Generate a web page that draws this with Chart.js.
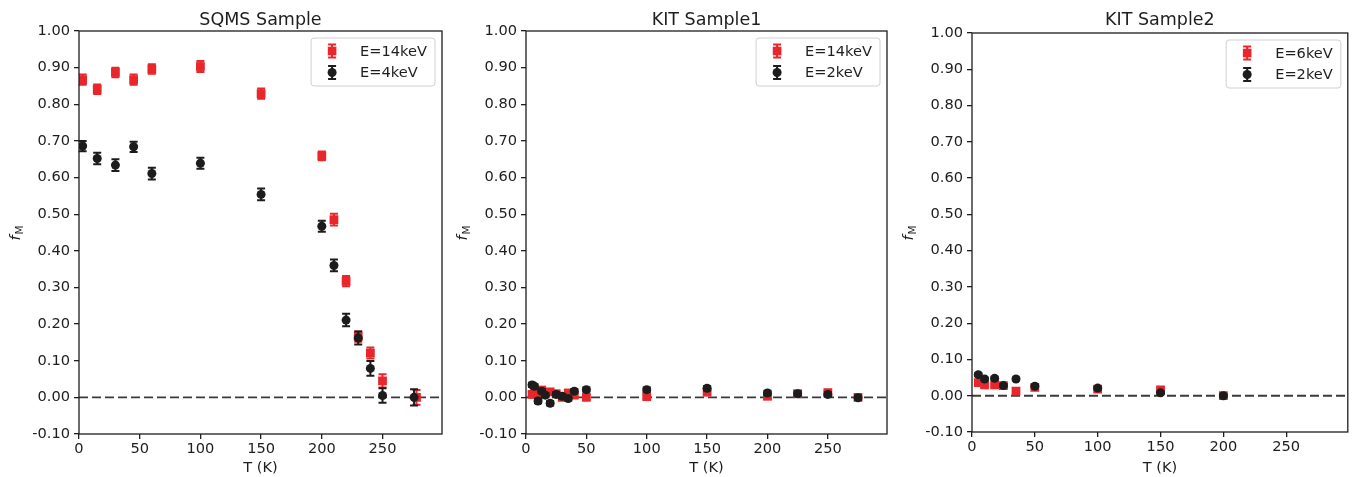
<!DOCTYPE html>
<html>
<head>
<meta charset="utf-8">
<script src="https://cdn.jsdelivr.net/npm/chart.js@4"></script>
<style>
  body { margin: 0; background: #fff; width: 1354px; height: 477px; overflow: hidden; position: relative; }
  canvas { position: absolute; top: 0; }
</style>
</head>
<body>
<canvas id="sqmsChart" width="460" height="477" style="left:0"></canvas>
<canvas id="kit1Chart" width="445" height="477" style="left:455px"></canvas>
<canvas id="kit2Chart" width="454" height="477" style="left:900px"></canvas>
<script>
// axis ticks
const xTicks = [0, 50, 100, 150, 200, 250];
const yTicks = [-0.1, 0, 0.1, 0.2, 0.3, 0.4, 0.5, 0.6, 0.7, 0.8, 0.9, 1.0];

// SQMS sample
const sqmsT14 = [3, 15, 30, 45, 60, 100, 150, 200, 210, 220, 230, 240, 250, 278];
const sqmsF14 = [0.867, 0.841, 0.887, 0.867, 0.896, 0.903, 0.829, 0.659, 0.485, 0.317, 0.166, 0.121, 0.045, 0.0];
const sqmsE14 = [0.014, 0.013, 0.013, 0.014, 0.013, 0.015, 0.014, 0.012, 0.016, 0.014, 0.014, 0.015, 0.018, 0.02];
const sqmsT4 = [3, 15, 30, 45, 60, 100, 150, 200, 210, 220, 230, 240, 250, 276];
const sqmsF4 = [0.686, 0.652, 0.634, 0.684, 0.611, 0.639, 0.554, 0.467, 0.360, 0.211, 0.162, 0.079, 0.005, 0.0];
const sqmsE4 = [0.014, 0.016, 0.016, 0.014, 0.016, 0.015, 0.016, 0.015, 0.016, 0.017, 0.018, 0.02, 0.02, 0.022];

// KIT sample 1
const kit1T = [5, 7, 10, 13, 16, 20, 25, 30, 35, 40, 50, 100, 150, 200, 225, 250, 275];
const kit1F14 = [0.008, 0.01, 0.012, 0.02, 0.012, 0.015, 0.01, 0.0, 0.012, 0.006, 0.0, 0.002, 0.014, 0.003, 0.01, 0.013, 0.0];
const kit1F2 = [0.034, 0.03, -0.01, 0.017, 0.006, -0.016, 0.008, 0.003, -0.003, 0.017, 0.021, 0.021, 0.025, 0.012, 0.01, 0.008, -0.001];
const kit1Err = 0.006;

// KIT sample 2
const kit2T = [5, 10, 18, 25, 35, 50, 100, 150, 200];
const kit2F6 = [0.036, 0.03, 0.03, 0.028, 0.013, 0.023, 0.018, 0.016, 0.0];
const kit2F2 = [0.058, 0.046, 0.048, 0.028, 0.046, 0.026, 0.021, 0.008, 0.0];
const kit2Err = 0.004;

const RED = '#e8262b';
const BLACK = '#1c1c1c';
const TEXT = '#1e1e1e';
const FONT = 'DejaVu Sans';

function points(xs, ys) {
    return xs.map((x, i) => ({ x: x, y: ys[i] }));
}

function errs(values, e) {
    return Array.isArray(e) ? e : values.map(() => e);
}

const errorBars = {
    id: 'errorBars',
    beforeDatasetDraw(chart, args) {
        const ds = chart.data.datasets[args.index];
        const ctx = chart.ctx;
        const yScale = chart.scales.y;
        ctx.save();
        ctx.strokeStyle = ds.backgroundColor;
        ctx.lineWidth = 2;
        args.meta.data.forEach((pt, i) => {
            const v = ds.data[i].y;
            const e = ds.errors[i];
            const top = yScale.getPixelForValue(v + e);
            const bot = yScale.getPixelForValue(v - e);
            ctx.beginPath();
            ctx.moveTo(pt.x, top); ctx.lineTo(pt.x, bot);
            ctx.moveTo(pt.x - 4, top); ctx.lineTo(pt.x + 4, top);
            ctx.moveTo(pt.x - 4, bot); ctx.lineTo(pt.x + 4, bot);
            ctx.stroke();
        });
        ctx.restore();
    }
};

const decorations = {
    id: 'decorations',
    beforeDatasetsDraw(chart) {
        // dashed zero line
        const ctx = chart.ctx;
        const a = chart.chartArea;
        const y0 = chart.scales.y.getPixelForValue(0);
        ctx.save();
        ctx.strokeStyle = '#3a3a3a';
        ctx.lineWidth = 1.8;
        ctx.setLineDash([9, 4]);
        ctx.beginPath();
        ctx.moveTo(a.left, y0); ctx.lineTo(a.right, y0);
        ctx.stroke();
        ctx.restore();
    },
    afterDraw(chart, args, opts) {
        const ctx = chart.ctx;
        const a = chart.chartArea;
        const cx = (a.left + a.right) / 2;
        ctx.save();
        // frame
        ctx.strokeStyle = TEXT;
        ctx.lineWidth = 1.3;
        ctx.strokeRect(a.left, a.top, a.right - a.left, a.bottom - a.top);

        // title
        ctx.fillStyle = TEXT;
        ctx.font = '17.5px "' + FONT + '"';
        ctx.textAlign = 'center';
        ctx.textBaseline = 'alphabetic';
        ctx.fillText(opts.title, cx, 25);

        // x label
        ctx.font = '14.6px "' + FONT + '"';
        ctx.fillText('T (K)', cx, 472);

        // y label f_M
        ctx.save();
        ctx.translate(a.left - 64, (a.top + a.bottom) / 2);
        ctx.rotate(-Math.PI / 2);
        ctx.textAlign = 'left';
        ctx.font = 'italic 14.6px "' + FONT + '"';
        ctx.fillText('f', -8, 5);
        ctx.font = '10.5px "' + FONT + '"';
        ctx.fillText('M', -2, 8);
        ctx.restore();

        // legend
        ctx.font = '14.6px "' + FONT + '"';
        const labels = opts.legend;
        const textW = Math.max(...labels.map(l => ctx.measureText(l).width));
        const w = 49 + textW + 8;
        const h = 48;
        const bx = a.right - 7 - w;
        const by = a.top + 7;
        ctx.beginPath();
        ctx.roundRect(bx, by, w, h, 3);
        ctx.fillStyle = 'rgba(255,255,255,0.8)';
        ctx.fill();
        ctx.strokeStyle = '#d0d0d0';
        ctx.lineWidth = 1;
        ctx.stroke();
        const dsets = chart.data.datasets;
        // datasets are [black, red]; legend lists red first
        [dsets[1], dsets[0]].forEach((ds, i) => {
            const mx = bx + 21;
            const my = by + 13 + i * 21.5;
            ctx.strokeStyle = ds.backgroundColor;
            ctx.lineWidth = 2;
            ctx.beginPath();
            ctx.moveTo(mx, my - 6.5); ctx.lineTo(mx, my + 6.5);
            ctx.moveTo(mx - 4, my - 6.5); ctx.lineTo(mx + 4, my - 6.5);
            ctx.moveTo(mx - 4, my + 6.5); ctx.lineTo(mx + 4, my + 6.5);
            ctx.stroke();
            ctx.fillStyle = ds.backgroundColor;
            ctx.beginPath();
            if (ds.pointStyle === 'rect') {
                ctx.rect(mx - 4.3, my - 4.3, 8.6, 8.6);
            } else {
                ctx.arc(mx, my, 4.5, 0, Math.PI * 2);
            }
            ctx.fill();
            ctx.fillStyle = TEXT;
            ctx.textAlign = 'left';
            ctx.textBaseline = 'middle';
            ctx.fillText(labels[i], bx + 49, my + 1);
        });
        ctx.restore();
    }
};

function makeChart(id, cfg) {
    const tickFont = { family: FONT, size: 14.6 };
    new Chart(document.getElementById(id), {
        type: 'scatter',
        data: {
            datasets: [
                {
                    data: points(cfg.blackT, cfg.blackF),
                    errors: errs(cfg.blackF, cfg.blackE),
                    backgroundColor: BLACK,
                    borderWidth: 0,
                    pointStyle: 'circle',
                    pointRadius: 4.5,
                    order: 1
                },
                {
                    data: points(cfg.redT, cfg.redF),
                    errors: errs(cfg.redF, cfg.redE),
                    backgroundColor: RED,
                    borderWidth: 0,
                    pointStyle: 'rect',
                    pointRadius: 6.2,
                    order: 2
                }
            ]
        },
        options: {
            responsive: false,
            animation: false,
            events: [],
            layout: { padding: { left: 0, right: cfg.padRight, top: cfg.top, bottom: 0 } },
            plugins: {
                legend: { display: false },
                tooltip: { enabled: false },
                decorations: { title: cfg.title, legend: cfg.legend }
            },
            scales: {
                x: {
                    type: 'linear',
                    min: 0,
                    max: 299,
                    afterBuildTicks: s => { s.ticks = xTicks.map(v => ({ value: v })); },
                    afterFit: s => { s.height = cfg.xHeight; },
                    ticks: { font: tickFont, color: TEXT, padding: 1, maxRotation: 0 },
                    grid: { drawOnChartArea: false, drawTicks: true, tickLength: 5, color: TEXT, lineWidth: 1.3 },
                    border: { display: false }
                },
                y: {
                    type: 'linear',
                    min: -0.1,
                    max: 1.0,
                    afterBuildTicks: s => { s.ticks = yTicks.map(v => ({ value: v })); },
                    afterFit: s => { s.width = cfg.yWidth; },
                    ticks: { font: tickFont, color: TEXT, padding: 4, callback: v => v.toFixed(2) },
                    grid: { drawOnChartArea: false, drawTicks: true, tickLength: 5, color: TEXT, lineWidth: 1.3 },
                    border: { display: false }
                }
            }
        },
        plugins: [errorBars, decorations]
    });
}

makeChart('sqmsChart', {
    title: 'SQMS Sample',
    legend: ['E=14keV', 'E=4keV'],
    redT: sqmsT14, redF: sqmsF14, redE: sqmsE14,
    blackT: sqmsT4, blackF: sqmsF4, blackE: sqmsE4,
    yWidth: 79, padRight: 18, top: 31, xHeight: 43
});

makeChart('kit1Chart', {
    title: 'KIT Sample1',
    legend: ['E=14keV', 'E=2keV'],
    redT: kit1T, redF: kit1F14, redE: kit1Err,
    blackT: kit1T, blackF: kit1F2, blackE: kit1Err,
    yWidth: 71, padRight: 13, top: 31, xHeight: 43
});

makeChart('kit2Chart', {
    title: 'KIT Sample2',
    legend: ['E=6keV', 'E=2keV'],
    redT: kit2T, redF: kit2F6, redE: kit2Err,
    blackT: kit2T, blackF: kit2F2, blackE: kit2Err,
    yWidth: 72, padRight: 6, top: 33, xHeight: 45
});
</script>
</body>
</html>
